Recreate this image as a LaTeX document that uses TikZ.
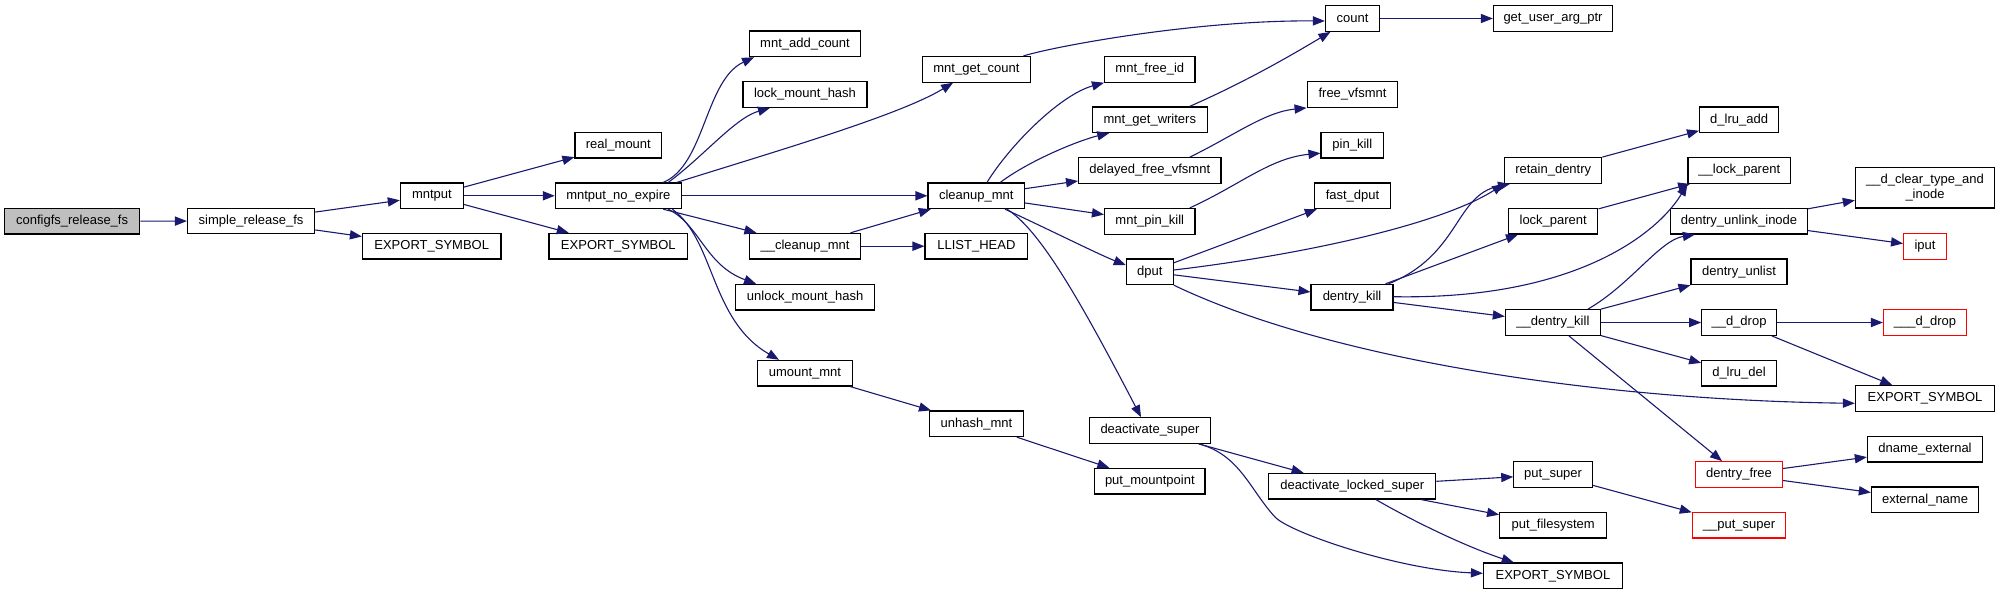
\documentclass[tikz,border=0pt]{standalone}
\usepackage{fontspec}
\setmainfont{Liberation Sans}
\usetikzlibrary{arrows.meta,calc}
\definecolor{edgeblue}{HTML}{191970}
\definecolor{rootgray}{HTML}{BFBFBF}
\newcommand\fnode[6]{\node[#1, minimum width=#5*0.5pt] (#2) at (#3,#4) {#6};}
\begin{document}
\begin{tikzpicture}[x=0.5pt,y=-0.5pt,
 fn/.style={draw=black, line width=0.6pt, fill=white, inner sep=0pt, minimum height=12.8pt, font=\fontsize{6.5pt}{7.8pt}\selectfont, align=center},
 rootfn/.style={fn, fill=rootgray},
 redfn/.style={fn, draw=red},
 call/.style={draw=edgeblue, line width=0.55pt, -{Triangle[length=6pt,width=4.6pt]}}]
\useasboundingbox (0,0) rectangle (2000,595);
\fnode{rootfn}{cfg}{72.1}{221.2}{135.2}{configfs\_release\_fs}
\fnode{fn}{srf}{251.1}{221}{127.2}{simple\_release\_fs}
\fnode{fn}{exA}{431.7}{246.2}{138.4}{EXPORT\_SYMBOL}
\fnode{fn}{mp}{431.9}{195.8}{63}{mntput}
\fnode{fn}{rm}{618.3}{145.2}{86.6}{real\_mount}
\fnode{fn}{mne}{618.3}{195.8}{125.9}{mntput\_no\_expire}
\fnode{fn}{exB}{618.3}{246.2}{138.5}{EXPORT\_SYMBOL}
\fnode{fn}{mac}{805}{43.8}{110.7}{mnt\_add\_count}
\fnode{fn}{lmh}{805}{94.5}{124.1}{lock\_mount\_hash}
\fnode{fn}{cu}{805}{246.2}{110.7}{\_\_cleanup\_mnt}
\fnode{fn}{umh}{805.1}{297.2}{138.9}{unlock\_mount\_hash}
\fnode{fn}{um}{804.9}{373.2}{94.6}{umount\_mnt}
\fnode{fn}{mgc}{976.4}{69.3}{108}{mnt\_get\_count}
\fnode{fn}{cm}{976.3}{195.8}{96.5}{cleanup\_mnt}
\fnode{fn}{lh}{976.4}{246.2}{102.7}{LLIST\_HEAD}
\fnode{fn}{uh}{976.4}{423.8}{93.7}{unhash\_mnt}
\fnode{fn}{mfi}{1149.8}{69.3}{90.5}{mnt\_free\_id}
\fnode{fn}{mgw}{1149.8}{119.7}{114.7}{mnt\_get\_writers}
\fnode{fn}{dfv}{1149.8}{170.5}{142.4}{delayed\_free\_vfsmnt}
\fnode{fn}{mpk}{1149.8}{221.3}{90.5}{mnt\_pin\_kill}
\fnode{fn}{dput}{1149.8}{271.8}{46.9}{dput}
\fnode{fn}{ds}{1150}{430.5}{121.4}{deactivate\_super}
\fnode{fn}{pmp}{1149.8}{481.2}{110.3}{put\_mountpoint}
\fnode{fn}{cnt}{1352.5}{18.5}{54.1}{count}
\fnode{fn}{fv}{1352.5}{94.5}{90.7}{free\_vfsmnt}
\fnode{fn}{pk}{1352.3}{145.2}{62.5}{pin\_kill}
\fnode{fn}{fd}{1352.5}{195.8}{76.3}{fast\_dput}
\fnode{fn}{dk}{1352}{297.2}{81.9}{dentry\_kill}
\fnode{fn}{dls}{1352.2}{486.2}{167}{deactivate\_locked\_super}
\fnode{fn}{guap}{1553}{18.5}{119.2}{get\_user\_arg\_ptr}
\fnode{fn}{rd}{1553.2}{170.5}{97.3}{retain\_dentry}
\fnode{fn}{lp}{1553.2}{221.2}{89.3}{lock\_parent}
\fnode{fn}{dek}{1552.9}{322.5}{95}{\_\_dentry\_kill}
\fnode{fn}{ps}{1553.1}{474.5}{78.6}{put\_super}
\fnode{fn}{pf}{1553.2}{525.2}{107.1}{put\_filesystem}
\fnode{fn}{exD}{1552.9}{575.8}{138.8}{EXPORT\_SYMBOL}
\fnode{fn}{dla}{1739.1}{119.8}{79}{d\_lru\_add}
\fnode{fn}{lpar}{1739.3}{170.5}{102.6}{\_\_lock\_parent}
\fnode{fn}{dui}{1739}{221.2}{137.1}{dentry\_unlink\_inode}
\fnode{fn}{dul}{1739}{271.8}{96}{dentry\_unlist}
\fnode{fn}{dd}{1739}{322.5}{74.5}{\_\_d\_drop}
\fnode{fn}{dld}{1739}{373.2}{74.5}{d\_lru\_del}
\fnode{redfn}{df}{1739}{474.5}{87.1}{dentry\_free}
\fnode{redfn}{pus}{1739}{525.2}{93.3}{\_\_put\_super}
\node[fn, minimum width=139.2*0.5pt, minimum height=20.35pt] (dct) at (1925,187.7) {\_\_d\_clear\_type\_and\\\_inode};
\fnode{redfn}{iput}{1925}{246.5}{42.8}{iput}
\fnode{redfn}{ddd}{1925}{322.5}{83}{\_\_\_d\_drop}
\fnode{fn}{exC}{1925}{398.5}{139.2}{EXPORT\_SYMBOL}
\fnode{fn}{dne}{1925}{449.2}{115.2}{dname\_external}
\fnode{fn}{en}{1925}{499.8}{107.2}{external\_name}
\coordinate (dsbend) at (1275,517);
% edges
\draw[call] (cfg) -- (srf);
\draw[call] (srf) -- (mp);
\draw[call] (srf) -- (exA);
\draw[call] (mp) -- (rm);
\draw[call] (mp) -- (mne);
\draw[call] (mp) -- (exB);
\draw[call] ($(mne.north)+(45,0)$) .. controls (705,165) and (705,80) .. ($(mac.south west)+(5,0)$);
\draw[call] ($(mne.north)+(50,0)$) .. controls (705,155) and (735,118) .. ($(lmh.south west)+(27.6,0)$);
\draw[call] ($(mne.north)+(58.5,0)$) .. controls (780,150) and (900,115) .. ($(mgc.south west)+(31.3,0)$);
\draw[call] (mne) -- (cm);
\draw[call] ($(mne.south)+(45,0)$) -- ($(cu.north west)+(7.4,0)$);
\draw[call] ($(mne.south)+(50,0)$) .. controls (700,225) and (705,265) .. ($(umh.north west)+(21,0)$);
\draw[call] ($(mne.south)+(54,0)$) .. controls (715,240) and (710,320) .. ($(um.north west)+(22,0)$);
\draw[call] ($(mgc.north east)+(-7.6,0)$) .. controls (1060,45) and (1200,20) .. ($(cnt.west)+(0,2.5)$);
\draw[call] ($(cm.north)+(10.7,0)$) .. controls (1010,145) and (1060,95) .. (mfi.south west);
\draw[call] ($(cm.north)+(24,0)$) .. controls (1030,160) and (1080,140) .. ($(mgw.south west)+(17.4,0)$);
\draw[call] (cm) -- (dfv);
\draw[call] (cm) -- (mpk);
\draw[call] ($(cm.south)+(28.7,0)$) .. controls (1050,230) and (1100,255) .. ($(dput.west)+(0,-6.8)$);
\draw[call] ($(cm.south)+(30.7,0)$) .. controls (1040,230) and (1080,300) .. ($(ds.north)+(-9,0)$);
\draw[call] (cu) -- (cm);
\draw[call] (cu) -- (lh);
\draw[call] (cnt) -- (guap);
\draw[call] ($(mgw.north)+(40,0)$) .. controls (1250,80) and (1300,50) .. ($(cnt.south west)+(5.6,0)$);
\draw[call] ($(dfv.north)+(40,0)$) .. controls (1235,135) and (1265,112) .. (fv.south west);
\draw[call] ($(mpk.north)+(40,0)$) .. controls (1240,185) and (1270,158) .. ($(pk.west)+(0,8)$);
\draw[call] (dput) -- (fd);
\draw[call] ($(dput.east)+(0,-1.8)$) .. controls (1300,255) and (1440,225) .. (rd.south west);
\draw[call] (dput) -- (dk);
\draw[call] (dput.south east) .. controls (1330,360) and (1600,400) .. ($(exC.west)+(0,4.8)$);
\draw[call] (rd) -- (dla);
\draw[call] ($(dk.north east)+(-5,0)$) .. controls (1460,255) and (1455,195) .. ($(rd.south west)+(6,0)$);
\draw[call] ($(dk.north east)+(-8,0)$) -- ($(lp.south west)+(10,0)$);
\draw[call] ($(dk.east)+(0,-0.5)$) .. controls (1580,300) and (1660,230) .. (lpar.south west);
\draw[call] (dk) -- (dek);
\draw[call] (lp) -- (lpar);
\draw[call] ($(dek.north)+(35,0)$) .. controls (1630,285) and (1660,240) .. ($(dui.south west)+(25,0)$);
\draw[call] (dek.north east) -- (dul.south west);
\draw[call] (dek) -- (dd);
\draw[call] (dek) -- (dld);
\draw[call] ($(dek.south)+(16,0)$) -- ($(df.north)+(-17,0)$);
\draw[call] (dui) -- (dct);
\draw[call] (dui) -- (iput);
\draw[call] (dd) -- (ddd);
\draw[call] (dd) -- (exC);
\draw[call] (df) -- (dne);
\draw[call] (df) -- (en);
\draw[call] (um) -- (uh);
\draw[call] (uh) -- (pmp);
\draw[call] (ds) -- (dls);
\draw[call] ($(ds.south)+(49,0)$) .. controls (1240,455) and (1250,490) .. (dsbend) .. controls (1290,533) and (1400,570) .. ($(exD.west)+(0,-2.5)$);
\draw[call] (dls) -- (ps);
\draw[call] (dls) -- (pf);
\draw[call] ($(dls.south)+(23.7,0)$) .. controls (1420,525) and (1470,548) .. ($(exD.north west)+(30.8,0)$);
\draw[call] (ps) -- (pus);
\end{tikzpicture}
\end{document}
